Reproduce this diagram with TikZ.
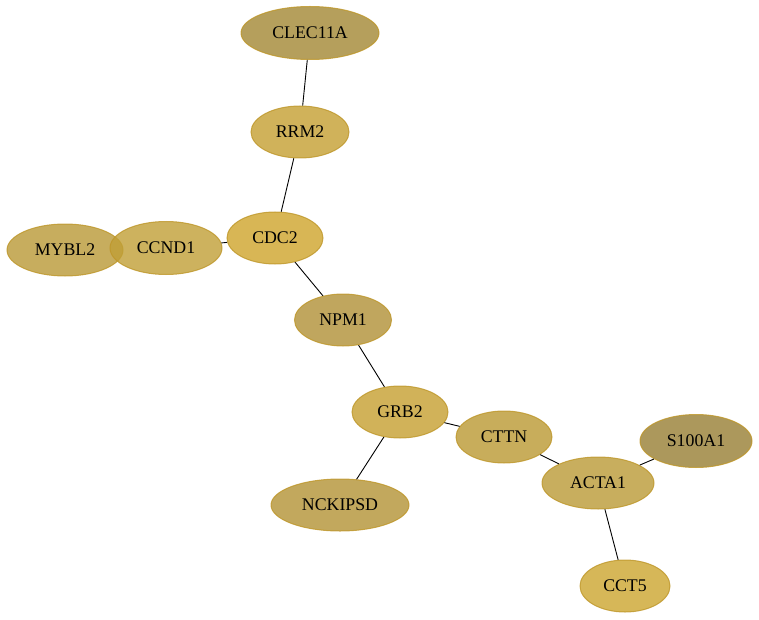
\documentclass[tikz,border=0pt]{standalone}
\usepackage{fontspec}
\setmainfont{Liberation Serif}
\usetikzlibrary{shapes.geometric}
\definecolor{cCLEC}{RGB}{162,135,51}
\definecolor{cRRM}{RGB}{196,159,49}
\definecolor{cCDC}{RGB}{206,164,42}
\definecolor{cMYB}{RGB}{185,152,54}
\definecolor{cCCN}{RGB}{192,159,54}
\definecolor{cNPM}{RGB}{176,144,54}
\definecolor{cGRB}{RGB}{197,159,47}
\definecolor{cCTT}{RGB}{186,152,50}
\definecolor{cS10}{RGB}{151,126,51}
\definecolor{cACT}{RGB}{186,154,54}
\definecolor{cNCK}{RGB}{179,146,52}
\definecolor{cCCT}{RGB}{204,165,46}
\definecolor{rim}{RGB}{190,150,40}
\tikzset{
  gene/.style={ellipse, draw=rim, draw opacity=0.8, line width=1pt, fill opacity=0.8, text opacity=1,
    inner sep=0pt, font=\fontsize{17.8}{20}\selectfont},
  link/.style={draw=black, line width=0.9pt}
}
\begin{document}
\begin{tikzpicture}[x=1pt,y=-1pt]
\useasboundingbox (0,0) rectangle (759,620);
% nodes
\node[gene, fill=cCLEC, minimum width=138pt, minimum height=53pt] (CLEC) at (310,33) {CLEC11A};
\node[gene, fill=cRRM, minimum width=98pt, minimum height=52pt] (RRM) at (300,132) {RRM2};
\node[gene, fill=cCDC, minimum width=96pt, minimum height=52pt] (CDC) at (275,238) {CDC2};
\node[gene, fill=cMYB, minimum width=116pt, minimum height=52pt] (MYB) at (65,250) {MYBL2};
\node[gene, fill=cCCN, minimum width=112pt, minimum height=53pt] (CCN) at (166,248) {CCND1};
\node[gene, fill=cNPM, minimum width=97pt, minimum height=52pt] (NPM) at (343,320) {NPM1};
\node[gene, fill=cGRB, minimum width=96pt, minimum height=52pt] (GRB) at (400,412) {GRB2};
\node[gene, fill=cCTT, minimum width=96pt, minimum height=52pt] (CTT) at (504,437) {CTTN};
\node[gene, fill=cS10, minimum width=112pt, minimum height=53pt] (S10) at (696,441) {S100A1};
\node[gene, fill=cACT, minimum width=112pt, minimum height=52pt] (ACT) at (598,483) {ACTA1};
\node[gene, fill=cNCK, minimum width=138pt, minimum height=52pt] (NCK) at (340,505) {NCKIPSD};
\node[gene, fill=cCCT, minimum width=90pt, minimum height=52pt] (CCT) at (625,586) {CCT5};
% edges
\draw[link] (CLEC) -- (RRM);
\draw[link] (RRM) -- (CDC);
\draw[link] (CDC) -- (CCN);
\draw[link] (CDC) -- (NPM);
\draw[link] (NPM) -- (GRB);
\draw[link] (GRB) -- (NCK);
\draw[link] (GRB) -- (CTT);
\draw[link] (CTT) -- (ACT);
\draw[link] (ACT) -- (S10);
\draw[link] (ACT) -- (CCT);
\end{tikzpicture}
\end{document}
